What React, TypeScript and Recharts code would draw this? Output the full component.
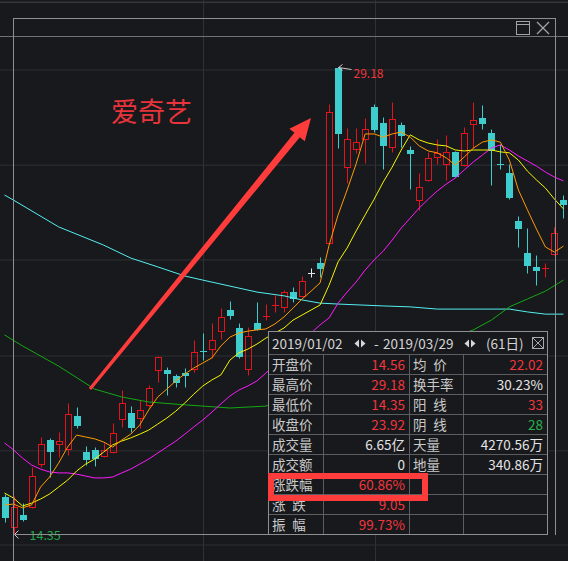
import React from 'react';
import { ComposedChart, Bar, Line, XAxis, YAxis, CartesianGrid } from 'recharts';

// trading days shown (12/31/2018 .. 04/01/2019)
const days = [
  '12/31', '01/02', '01/03', '01/04', '01/07', '01/08', '01/09', '01/10', '01/11', '01/14',
  '01/15', '01/16', '01/17', '01/18', '01/22', '01/23', '01/24', '01/25', '01/28', '01/29',
  '01/30', '01/31', '02/01', '02/04', '02/05', '02/06', '02/07', '02/08', '02/11', '02/12',
  '02/13', '02/14', '02/15', '02/19', '02/20', '02/21', '02/22', '02/25', '02/26', '02/27',
  '02/28', '03/01', '03/04', '03/05', '03/06', '03/07', '03/08', '03/11', '03/12', '03/13',
  '03/14', '03/15', '03/18', '03/19', '03/20', '03/21', '03/22', '03/25', '03/26', '03/27',
  '03/28', '03/29', '04/01',
];

const open = [
  15.52, 14.56, 14.95, 15.21, 16.57, 17.33, 17.21, 17.05, 18.10, 16.95,
  17.02, 16.83, 16.95, 18.00, 18.19, 18.03, 18.45, 19.56, 19.56, 19.37,
  19.46, 19.59, 20.16, 20.22, 20.79, 21.46, 20.89, 19.59, 21.05, 21.24,
  21.59, 21.56, 22.03, 21.91, 22.64, 22.95, 23.59, 29.14, 26.00, 26.57,
  26.89, 27.91, 27.40, 26.64, 27.33, 26.54, 24.95, 25.59, 26.32, 26.10,
  26.48, 26.06, 27.37, 27.56, 27.08, 26.10, 25.81, 24.29, 23.27, 22.83,
  22.76, 23.24, 24.95,
];
const close = [
  14.89, 15.21, 14.83, 16.19, 17.21, 16.99, 17.30, 18.16, 17.81, 16.73,
  16.76, 17.02, 17.56, 18.51, 17.75, 18.29, 18.99, 19.97, 19.46, 19.18,
  19.40, 20.13, 20.13, 20.51, 21.24, 21.30, 20.00, 20.64, 20.86, 21.27,
  21.62, 22.03, 21.84, 22.38, 22.64, 22.79, 27.75, 27.08, 26.89, 26.79,
  27.21, 27.21, 26.70, 27.52, 27.02, 26.45, 25.37, 26.29, 26.45, 26.48,
  25.72, 27.08, 27.49, 27.40, 26.54, 26.06, 25.05, 24.06, 22.89, 22.73,
  22.78, 23.92, 24.83,
];
const high = [
  15.62, 15.56, 15.33, 16.48, 17.43, 17.40, 17.59, 18.51, 18.38, 17.14,
  17.11, 17.24, 17.87, 18.92, 18.41, 18.60, 19.08, 19.99, 19.65, 19.43,
  19.62, 20.51, 20.73, 21.05, 21.52, 21.75, 21.05, 20.92, 21.72, 21.65,
  21.94, 22.10, 22.19, 22.54, 22.79, 23.14, 28.00, 29.18, 27.24, 27.24,
  27.56, 28.00, 27.59, 28.06, 27.43, 26.67, 25.81, 26.48, 26.89, 27.02,
  26.50, 27.27, 28.06, 27.97, 27.21, 26.73, 26.10, 24.45, 24.06, 23.21,
  22.95, 24.10, 25.11,
];
const low = [
  14.73, 14.35, 14.76, 15.19, 16.48, 16.16, 16.79, 16.86, 17.72, 16.54,
  16.51, 16.81, 16.93, 17.75, 17.59, 17.72, 18.38, 19.18, 18.76, 19.02,
  19.02, 19.49, 19.87, 19.94, 20.54, 21.18, 19.94, 19.40, 20.83, 21.14,
  21.40, 21.40, 21.72, 21.89, 22.51, 22.51, 23.56, 26.60, 25.49, 26.45,
  26.13, 27.11, 25.94, 26.48, 26.64, 25.30, 24.64, 25.57, 26.10, 25.59,
  25.68, 26.04, 26.60, 27.21, 25.43, 25.94, 24.98, 23.46, 22.64, 22.25,
  22.51, 23.21, 24.38,
];

// moving averages
const ma5 = [
  15.27, 15.30, 15.18, 15.27, 15.84, 16.16, 16.60, 17.11, 17.49, 17.43,
  17.37, 17.27, 17.11, 17.33, 17.52, 17.81, 18.29, 18.70, 18.95, 19.21,
  19.43, 19.62, 19.78, 19.94, 20.32, 20.60, 20.73, 20.79, 20.83, 20.86,
  21.02, 21.24, 21.52, 21.81, 22.06, 22.32, 23.52, 24.48, 25.27, 26.10,
  27.05, 27.05, 26.95, 27.05, 27.11, 26.95, 26.67, 26.51, 26.45, 26.29,
  26.06, 26.32, 26.60, 26.79, 26.86, 26.79, 26.22, 25.27, 24.64, 24.03,
  23.46, 23.30, 23.49,
];
const ma10 = [
  15.65, 15.49, 15.24, 15.33, 15.46, 15.62, 15.84, 16.06, 16.35, 16.57,
  16.73, 16.95, 17.18, 17.30, 17.40, 17.52, 17.65, 17.84, 18.03, 18.25,
  18.51, 18.79, 19.05, 19.24, 19.40, 19.87, 20.10, 20.22, 20.38, 20.57,
  20.73, 20.89, 21.14, 21.30, 21.46, 21.62, 22.25, 22.99, 23.43, 23.97,
  24.48, 24.98, 25.52, 26.00, 26.54, 27.02, 26.86, 26.76, 26.70, 26.67,
  26.54, 26.51, 26.54, 26.54, 26.54, 26.48, 26.45, 26.22, 25.87, 25.59,
  25.33, 24.98, 24.67,
];
const ma20 = [
  17.24, 17.02, 16.76, 16.54, 16.41, 16.32, 16.29, 16.29, 16.25, 16.19,
  16.13, 16.13, 16.16, 16.29, 16.41, 16.57, 16.73, 16.92, 17.11, 17.30,
  17.52, 17.75, 17.97, 18.22, 18.48, 18.73, 18.92, 19.05, 19.21, 19.46,
  19.72, 19.97, 20.22, 20.48, 20.73, 20.99, 21.21, 21.68, 22.03, 22.35,
  22.73, 23.05, 23.33, 23.68, 24.06, 24.38, 24.70, 24.98, 25.24, 25.46,
  25.65, 25.91, 26.16, 26.38, 26.60, 26.70, 26.54, 26.35, 26.19, 26.03,
  25.84, 25.68, 25.56,
];
const ma60 = [
  20.67, null, 20.32, null, null, null, 19.68, null, null, null,
  18.95, null, null, 18.70, null, null, 18.54, null, null, null,
  18.45, null, null, null, null, 18.35, null, null, null, 18.41,
  null, null, null, null, null, null, null, null, null, null,
  null, null, null, null, null, null, null, null, null, null,
  null, null, 20.83, null, 21.14, null, 21.56, null, 21.81, null,
  22.06, null, 22.41,
];
const ma120 = [
  25.11, 24.95, null, null, null, null, 24.10, null, null, null,
  null, 23.52, null, null, 23.11, null, null, 22.83, null, null,
  22.54, null, 22.41, null, null, null, null, null, 22.03, null,
  null, 21.91, null, 21.78, null, 21.68, null, 21.65, null, null,
  null, null, 21.59, null, null, 21.56, null, null, 21.49, null,
  null, null, null, null, null, null, 21.49, null, 21.40, null,
  21.33, null, 21.33,
];

const gridPrices = [14.0, 16.99, 20.0, 23.05, 26.06, 29.08, 31.24];

// summary box for 2019/01/02 - 2019/03/29
const leftLabels = ['开盘价', '最高价', '最低价', '收盘价', '成交量', '成交额', '涨跌幅', '涨\u2002跌', '振\u2002幅'];
const leftValues = ['14.56', '29.18', '14.35', '23.92', '6.65亿', '0', '60.86%', '9.05', '99.73%'];
const leftColors = ['r', 'r', 'r', 'r', 'w', 'w', 'r', 'r', 'r'];
const rightLabels = ['均\u2002价', '换手率', '阳\u2002线', '阴\u2002线', '天量', '地量', '', '', ''];
const rightValues = ['22.02', '30.23%', '33', '28', '4270.56万', '340.86万', '', '', ''];
const rightColors = ['r', 'w', 'r', 'g', 'w', 'w', 'w', 'w', 'w'];

const W = 568;
const H = 561;
const BG = '#18191c';
const UP = '#e3141c';
const DOWN = '#3ecccc';
const FLAT = '#e8e8e8';
const FONT = '"Noto Sans CJK SC", "Noto Sans", sans-serif';
const TXT = { r: '#f2363c', w: '#e4e4e4', g: '#28b04c' } as Record<string, string>;

const data = days.map((d, i) => ({
  day: d,
  open: open[i],
  close: close[i],
  high: high[i],
  low: low[i],
  range: [low[i], high[i]],
  ma5: ma5[i],
  ma10: ma10[i],
  ma20: ma20[i],
  ma60: ma60[i],
  ma120: ma120[i],
}));

const maxHigh = Math.max(...high);
const minLow = Math.min(...low);

function Candle(props: any) {
  const { x, y, width, height, payload } = props;
  if (x == null || !payload) return null;
  const top = Math.min(y, y + height);
  const bot = Math.max(y, y + height);
  const { open: o, close: c, high: h, low: l } = payload;
  const span = h - l || 1;
  const py = (v: number) => top + ((h - v) / span) * (bot - top);
  const cx = Math.round(x + width / 2) + 0.5;
  const color = c > o ? UP : c < o ? DOWN : FLAT;
  const bTop = Math.round(py(Math.max(o, c))) + 0.5;
  const bBot = Math.round(py(Math.min(o, c))) + 0.5;
  const wTop = Math.round(top) + 0.5;
  const wBot = Math.round(bot) + 0.5;
  const parts: React.ReactNode[] = [];

  if (bBot - bTop < 1.5) {
    parts.push(<line key="w" x1={cx} x2={cx} y1={wTop} y2={wBot} stroke={color} />);
    parts.push(<line key="b" x1={cx - 3.5} x2={cx + 3.5} y1={bTop} y2={bTop} stroke={color} />);
  } else if (c > o) {
    parts.push(<line key="w1" x1={cx} x2={cx} y1={wTop} y2={bTop} stroke={color} />);
    parts.push(<line key="w2" x1={cx} x2={cx} y1={bBot} y2={wBot} stroke={color} />);
    parts.push(<rect key="b" x={cx - 3} y={bTop} width={6} height={bBot - bTop} fill="none" stroke={color} />);
  } else {
    parts.push(<line key="w" x1={cx} x2={cx} y1={wTop} y2={wBot} stroke={color} />);
    parts.push(<rect key="b" x={cx - 3.5} y={bTop - 0.5} width={7} height={bBot - bTop + 1} fill={color} />);
  }

  if (h === maxHigh) {
    parts.push(
      <g key="max">
        <line x1={cx} x2={cx + 13} y1={wTop} y2={wTop + 2} stroke="#c8c8c8" />
        <polyline points={`${cx + 4},${wTop - 3} ${cx},${wTop} ${cx + 4},${wTop + 3}`} fill="none" stroke="#c8c8c8" />
        <text x={cx + 15} y={wTop + 10} fill="#f2363c" fontSize={12} fontFamily={FONT}>{h.toFixed(2)}</text>
      </g>
    );
  }
  if (l === minLow) {
    parts.push(
      <g key="min">
        <polyline points={`${cx + 4},${wBot - 4} ${cx},${wBot} ${cx + 4},${wBot + 4}`} fill="none" stroke="#c8c8c8" />
        <text x={cx + 15} y={wBot + 5} fill="#22a84a" fontSize={12.5} fontFamily={FONT}>{l.toFixed(2)}</text>
      </g>
    );
  }
  return <g>{parts}</g>;
}

function ArrowPair() {
  return (
    <svg width={12} height={9} style={{ display: 'block' }}>
      <polygon points="5,0.5 5,8.5 0.5,4.5" fill="#d6d6d6" />
      <polygon points="7,0.5 7,8.5 11.5,4.5" fill="#d6d6d6" />
    </svg>
  );
}

function SummaryBox() {
  const line = '1px solid #5c5d60';
  return (
    <div
      style={{
        position: 'absolute',
        left: 268,
        top: 331,
        width: 280,
        height: 204,
        boxSizing: 'border-box',
        border: '1px solid #8e8f92',
        background: BG,
        fontFamily: FONT,
        fontSize: 13.5,
        color: '#cacaca',
      }}
    >
      <div style={{ position: 'relative', height: 22, lineHeight: '22px', color: '#d4d4d4' }}>
        <span style={{ position: 'absolute', left: 3 }}>2019/01/02</span>
        <span style={{ position: 'absolute', left: 85, top: 7 }}><ArrowPair /></span>
        <span style={{ position: 'absolute', left: 105 }}>-</span>
        <span style={{ position: 'absolute', left: 114 }}>2019/03/29</span>
        <span style={{ position: 'absolute', left: 195, top: 7 }}><ArrowPair /></span>
        <span style={{ position: 'absolute', left: 217 }}>(61日)</span>
        <svg style={{ position: 'absolute', left: 263, top: 5 }} width={12} height={12}>
          <rect x={0.5} y={0.5} width={11} height={11} fill="none" stroke="#a8a8a8" />
          <line x1={1} y1={1} x2={11} y2={11} stroke="#a8a8a8" />
          <line x1={11} y1={1} x2={1} y2={11} stroke="#a8a8a8" />
        </svg>
      </div>
      {leftLabels.map((lab, i) => (
        <div key={i} style={{ display: 'flex', height: 20, lineHeight: '19px', borderTop: line, boxSizing: 'border-box' }}>
          <div style={{ width: 55, borderRight: line, paddingLeft: 3, boxSizing: 'border-box', whiteSpace: 'pre' }}>{lab}</div>
          <div style={{ width: 86, borderRight: line, paddingRight: 4, textAlign: 'right', boxSizing: 'border-box', color: TXT[leftColors[i]] }}>
            {leftValues[i]}
          </div>
          <div style={{ width: 54, borderRight: line, paddingLeft: 3, boxSizing: 'border-box', whiteSpace: 'pre' }}>{rightLabels[i]}</div>
          <div style={{ width: 83, paddingRight: 4, textAlign: 'right', boxSizing: 'border-box', color: TXT[rightColors[i]] }}>
            {rightValues[i]}
          </div>
        </div>
      ))}
    </div>
  );
}

export default function App() {
  return (
    <div style={{ position: 'absolute', left: 0, top: 0, width: W, height: H, background: BG, overflow: 'hidden', fontFamily: FONT }}>
      <ComposedChart width={W} height={H} data={data} margin={{ top: 0, right: 0, bottom: 0, left: 0 }}>
        <CartesianGrid stroke="#2f3034" horizontalValues={gridPrices} verticalPoints={[203.5, 375.5]} />
        <XAxis dataKey="day" hide />
        <YAxis hide type="number" domain={[13.493, 31.302]} allowDataOverflow ticks={gridPrices} />
        <Line dataKey="ma120" stroke="#55eef0" strokeWidth={1} dot={false} activeDot={false} connectNulls isAnimationActive={false} />
        <Line dataKey="ma60" stroke="#14a814" strokeWidth={1} dot={false} activeDot={false} connectNulls isAnimationActive={false} />
        <Bar dataKey="range" barSize={7} shape={Candle} activeBar={false} isAnimationActive={false} />
        <Line dataKey="ma20" stroke="#ff1aff" strokeWidth={1} dot={false} activeDot={false} isAnimationActive={false} />
        <Line dataKey="ma10" stroke="#f5f500" strokeWidth={1} dot={false} activeDot={false} isAnimationActive={false} />
        <Line dataKey="ma5" stroke="#ff9a00" strokeWidth={1} dot={false} activeDot={false} isAnimationActive={false} />
      </ComposedChart>

      <svg width={W} height={H} style={{ position: 'absolute', left: 0, top: 0, pointerEvents: 'none' }}>
        <line x1={0} x2={W} y1={2.5} y2={2.5} stroke="#35363a" />
        <line x1={0} x2={W} y1={36.5} y2={36.5} stroke="#707174" />
        <line x1={13.5} x2={13.5} y1={18} y2={H} stroke="#8e8f92" />
        <line x1={13} x2={556} y1={18.5} y2={18.5} stroke="#8e8f92" />
        <line x1={555.5} x2={555.5} y1={18} y2={535} stroke="#8e8f92" />
        <line x1={13} x2={268} y1={534.5} y2={534.5} stroke="#8e8f92" />
        <rect x={516.5} y={21.5} width={13} height={13} fill="none" stroke="#a3a3a3" />
        <line x1={516.5} x2={529.5} y1={24.5} y2={24.5} stroke="#a3a3a3" />
        <line x1={537} y1={22} x2={549} y2={34} stroke="#a3a3a3" strokeWidth={1.3} />
        <line x1={549} y1={22} x2={537} y2={34} stroke="#a3a3a3" strokeWidth={1.3} />
        <text x={111} y={122} fill="#e8343a" fontSize={27} fontFamily={FONT}>爱奇艺</text>
        <polygon
          points="91.2,390 299.8,137.2 304.8,141.3 311,118 289.4,128.7 294.4,132.8 88.8,388"
          fill="#ff3c3c"
        />
      </svg>

      <SummaryBox />
      <div
        style={{
          position: 'absolute',
          left: 268,
          top: 473,
          width: 160,
          height: 28,
          boxSizing: 'border-box',
          border: '6px solid #ff3c3c',
        }}
      />
    </div>
  );
}
